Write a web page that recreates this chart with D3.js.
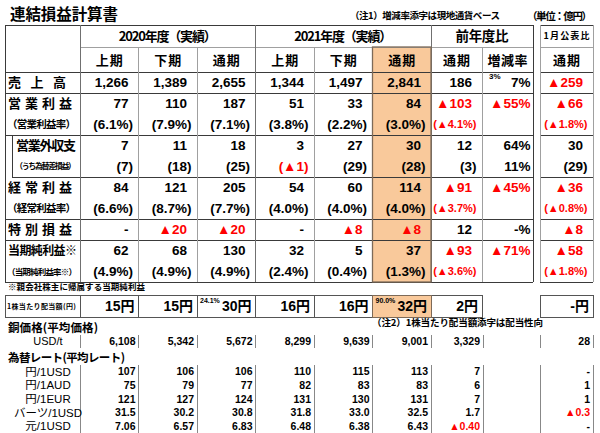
<!DOCTYPE html>
<html><head><meta charset="utf-8">
<script src="https://cdn.jsdelivr.net/npm/d3@7"></script>
<style>body{margin:0;background:#fff}svg{display:block}</style>
</head><body><svg id="c" width="600" height="433"></svg>
<script>
// ---------- data ----------
const periods = ["h1_20","h2_20","fy20","h1_21","h2_21","fy21"];
const periodLabels = ["上期","下期","通期","上期","下期","通期"];
const yearLabels = ["2020年度（実績）","2021年度（実績）"];
const compareLabels = ["通期","増減率"];
const rowLabels = ["売 上 高","営 業 利 益","営業外収支","経 常 利 益","特 別 損 益","当期純利益※"];
const subLabels = [null,"（営業利益率）","（うち為替差損益）","（経常利益率）",null,"（当期純利益率※）"];

const sales     = [1266,1389,2655,1344,1497,2841];
const opIncome  = [77,110,187,51,33,84];
const opMargin  = [6.1,7.9,7.1,3.8,2.2,3.0];
const nonOp     = [7,11,18,3,27,30];
const fxGain    = [7,18,25,-1,29,28];
const ordinary  = [84,121,205,54,60,114];
const ordMargin = [6.6,8.7,7.7,4.0,4.0,4.0];
const special   = [null,-20,-20,null,-8,-8];
const netIncome = [62,68,130,32,5,37];
const netMargin = [4.9,4.9,4.9,2.4,0.4,1.3];

const yoyMain   = [186,-103,12,-91,12,-93];
const yoySub    = [null,-4.1,3,-3.7,null,-3.6];
const rateMain  = [7,-55,64,-45,null,-71];
const rateSub   = [null,null,11,null,null,null];
const rateLocal = [3,null,null,null,null,null];
const janMain   = [-259,-66,30,-36,-8,-58];
const janSub    = [null,-1.8,29,-0.8,null,-1.8];

const dividend    = [15,15,30,16,16,32];
const payoutRatio = [null,null,24.1,null,null,90.0];
const dividendYoy = 2;
const dividendJan = null;

const copper    = [6108,5342,5672,8299,9639,9001];
const copperYoy = 3329;
const copperJan = 28;

const fxLabels   = ["円/1USD","円/1AUD","円/1EUR","バーツ/1USD","元/1USD"];
const fxUSD = [107,106,106,110,115,113];
const fxAUD = [75,79,77,82,83,83];
const fxEUR = [121,127,124,131,130,131];
const fxTHB = [31.5,30.2,30.8,31.8,33.0,32.5];
const fxCNY = [7.06,6.57,6.83,6.48,6.38,6.43];
const fxYoy = [7,6,7,1.7,-0.40];
const fxJan = [null,1,1,-0.3,null];
const fxDecimals = [0,0,0,1,2];

// ---------- setup ----------
const svg = d3.select("#c");
const NUM = "'Liberation Sans', Arial, 'Noto Sans CJK JP', sans-serif";
const JP = "'Noto Sans CJK JP', 'Liberation Sans', sans-serif";
const RED = "#ff0000", PEACH = "#f9c99b", DARK = "#3a3a3a", GREY = "#a0a0a0", HL = "#7d6a58";

const x  = d3.scaleBand().domain(periods).range([80, 431]);
const xc = d3.scaleBand().domain(["yoy","rate"]).range([431, 533]);
const xj = d3.scaleBand().domain(["jan"]).range([540, 593]);
const y  = d3.scaleLinear().domain([0, 10]).range([72, 282]);

const rows = [
  {vals: sales,     sub: null,      subType: null},
  {vals: opIncome,  sub: opMargin,  subType: "pct"},
  {vals: nonOp,     sub: fxGain,    subType: "int"},
  {vals: ordinary,  sub: ordMargin, subType: "pct"},
  {vals: special,   sub: null,      subType: null},
  {vals: netIncome, sub: netMargin, subType: "pct"}
];
let acc = 0;
rows.forEach((r, i) => { r.start = acc; r.span = r.sub ? 2 : 1; acc += r.span; r.i = i; });

const gFill = svg.append("g"), gLine = svg.append("g"), gText = svg.append("g");

function txt(xp, yp, s, o = {}) {
  const t = gText.append("text").attr("x", xp).attr("y", yp).text(s)
    .attr("font-family", o.family || NUM).attr("font-size", o.size || 13)
    .attr("font-weight", o.weight || "bold").attr("fill", o.fill || "#000")
    .attr("text-anchor", o.anchor || "end").attr("dy", "0.36em");
  if (o.tl) t.attr("textLength", o.tl).attr("lengthAdjust", o.adj || "spacing");
  return t;
}
function line(x1, y1, x2, y2, c, w) {
  gLine.append("line").attr("x1", x1).attr("y1", y1).attr("x2", x2).attr("y2", y2)
    .attr("stroke", c || DARK).attr("stroke-width", w || 1).attr("shape-rendering", "crispEdges");
}
const fInt = d3.format(",");
function fmtNum(v, type, dec) {
  if (v === null) return "-";
  const a = Math.abs(v);
  const s = type === "pct" ? d3.format(".1f")(a) + "%" : (dec ? d3.format("." + dec + "f")(a) : fInt(a));
  return (v < 0 ? "▲" : "") + s;
}

// ---------- title & notes ----------
txt(10, 14, "連結損益計算書", {family: JP, size: 15.5, anchor: "start", tl: 108});
txt(350, 16, "（注1）増減率添字は現地通貨ベース", {family: JP, size: 9.5, anchor: "start", tl: 150});
txt(527, 16, "（単位：億円）", {family: JP, size: 10.5, anchor: "start", tl: 65});

// ---------- highlight ----------
gFill.append("rect").attr("x", x("fy21")).attr("y", 47).attr("width", x.bandwidth()).attr("height", 282 - 47).attr("fill", PEACH);

// ---------- grid ----------
line(5, 25, 533, 25);
line(80, 47, 533, 47, GREY);
line(5, 72, 533, 72);
rows.forEach((r, i) => { if (i > 0) line(i === 3 ? 12 : 5, y(r.start), 533, y(r.start)); });
line(5, 282, 533, 282);
line(5, 25, 5, 282);
line(533, 25, 533, 282);
line(12, y(rows[2].start), 12, y(rows[3].start), DARK);
[80, x("h1_21"), 431].forEach(v => line(v, 25, v, 282, "#707070"));
periods.forEach(p => { if (p !== "h1_20" && p !== "h1_21") line(x(p), 47, x(p), 282, GREY); });
line(xc("rate"), 47, xc("rate"), 282, GREY);
const jx0 = xj("jan"), jx1 = xj("jan") + xj.bandwidth();
line(jx0, 25, jx1, 25);
line(jx0, 47, jx1, 47, GREY);
line(jx0, 72, jx1, 72);
rows.forEach((r, i) => { if (i > 0) line(jx0, y(r.start), jx1, y(r.start)); });
line(jx0, 282, jx1, 282);
line(jx0, 25, jx0, 282, GREY);
line(jx1, 25, jx1, 282, GREY);
gLine.append("rect").attr("x", x("fy21")).attr("y", 47).attr("width", x.bandwidth()).attr("height", 282 - 47)
  .attr("fill", "none").attr("stroke", HL).attr("stroke-width", 1.3);

// ---------- headers ----------
txt(x("h1_20") + x.bandwidth() * 1.5, 36, yearLabels[0], {family: JP, anchor: "middle", size: 13, tl: 98});
txt(x("h1_21") + x.bandwidth() * 1.5, 36, yearLabels[1], {family: JP, anchor: "middle", size: 13, tl: 98});
txt(482, 36, "前年度比", {family: JP, anchor: "middle", size: 13.5, tl: 53});
txt(566.5, 36, "1月公表比", {family: JP, anchor: "middle", size: 9, tl: 46});
periods.forEach((p, i) => txt(x(p) + x.bandwidth() / 2, 60, periodLabels[i], {family: JP, anchor: "middle", size: 13, tl: 27}));
txt(xc("yoy") + xc.bandwidth() / 2, 60, compareLabels[0], {family: JP, anchor: "middle", size: 13, tl: 27});
txt(xc("rate") + xc.bandwidth() / 2, 60, compareLabels[1], {family: JP, anchor: "middle", size: 13, tl: 40});
txt((jx0 + jx1) / 2, 60, "通期", {family: JP, anchor: "middle", size: 13, tl: 27});

// ---------- row labels ----------
const labelW = [58, 64, 60, 64, 64, 69];
const subW = [0, 69, 61, 69, 0, 70];
const subSize = [0, 10.5, 8, 10.5, 0, 8.5];
rows.forEach((r, i) => {
  const x0 = i === 2 ? 16 : 8;
  txt(x0, y(r.start + 0.5), rowLabels[i], {family: JP, anchor: "start", size: i === 5 ? 12 : 13, tl: labelW[i]});
  if (subLabels[i]) txt(x0 - 1, y(r.start + 1.5), subLabels[i], {family: JP, anchor: "start", size: subSize[i], tl: subW[i]});
});

// ---------- values ----------
rows.forEach((r, i) => {
  const ym = y(r.start + 0.5), ys = y(r.start + 1.5);
  periods.forEach((p, j) => {
    const right = x(p) + x.bandwidth();
    const v = r.vals[j];
    txt(right - 10, ym, fmtNum(v, "int"), {fill: v !== null && v < 0 ? RED : "#000", size: 13.5});
    if (r.sub) {
      const s = r.sub[j];
      txt(right - 5.5, ys, "(" + fmtNum(s, r.subType) + ")", {fill: s < 0 ? RED : "#000", size: 13.5});
    }
  });
  const yr = xc("yoy") + xc.bandwidth();
  txt(yr - 10, ym, fmtNum(yoyMain[i], "int"), {fill: yoyMain[i] < 0 ? RED : "#000", size: 13.5});
  if (yoySub[i] !== null) {
    const neg = yoySub[i] < 0;
    txt(yr - 5.5, ys, "(" + fmtNum(yoySub[i], r.subType) + ")", {fill: neg ? RED : "#000", size: neg ? 11 : 13.5});
  }
  const rr = xc("rate") + xc.bandwidth();
  txt(rr - 2.5, ym, rateMain[i] === null ? "-%" : fmtNum(rateMain[i], "int") + "%", {fill: rateMain[i] < 0 ? RED : "#000", size: 13.5});
  if (rateSub[i] !== null) txt(rr - 2.5, ys, fmtNum(rateSub[i], "int") + "%", {size: 13.5});
  if (rateLocal[i] !== null) txt(xc("rate") + 7, ym - 6, rateLocal[i] + "%", {anchor: "start", size: 8});
  const jr = jx1;
  txt(jr - 10, ym, fmtNum(janMain[i], "int"), {fill: janMain[i] < 0 ? RED : "#000", size: 13.5});
  if (janSub[i] !== null) {
    const neg = janSub[i] < 0;
    txt(jr - 5.5, ys, "(" + fmtNum(janSub[i], r.subType) + ")", {fill: neg ? RED : "#000", size: neg ? 11 : 13.5});
  }
});

// ---------- footnote ----------
txt(8, 287, "※親会社株主に帰属する当期純利益", {family: JP, anchor: "start", size: 8.5, tl: 137});

// ---------- dividend row ----------
const dy0 = 295, dy1 = 317, dyc = 306;
function cell(x0, x1, fill, stroke) {
  gFill.append("rect").attr("x", x0).attr("y", dy0).attr("width", x1 - x0).attr("height", dy1 - dy0)
    .attr("fill", fill || "#fff").attr("stroke", stroke || "#555").attr("stroke-width", 1).attr("shape-rendering", "crispEdges");
}
cell(5, 80);
periods.forEach(p => { if (p !== "fy21") cell(x(p), x(p) + x.bandwidth()); });
cell(xc("yoy"), xc("yoy") + xc.bandwidth());
cell(jx0, jx1);
cell(x("fy21"), x("fy21") + x.bandwidth(), PEACH, HL);
txt(7, dyc, "1株当たり配当額(円)", {family: JP, anchor: "start", size: 7, tl: 69});
periods.forEach((p, j) => {
  txt(x(p) + x.bandwidth() - 4, dyc, dividend[j] + "円", {size: 14});
  if (payoutRatio[j] !== null) txt(x(p) + 3, dy0 + 5, d3.format(".1f")(payoutRatio[j]) + "%", {anchor: "start", size: 7});
});
txt(xc("yoy") + xc.bandwidth() - 4, dyc, dividendYoy + "円", {size: 14});
txt(jx1 - 4, dyc, (dividendJan === null ? "-" : dividendJan) + "円", {size: 14});
txt(372, 323, "（注2）1株当たり配当額添字は配当性向", {family: JP, anchor: "start", size: 9.5, tl: 171});

// ---------- copper & fx ----------
const fxKeys = ["usd","aud","eur","thb","cny"];
const yl = d3.scalePoint().domain(fxKeys).range([371.5, 426]);
const yCopperTitle = 328, yCopper = 341.5, yFxTitle = 357.5;
txt(8, yCopperTitle, "銅価格(平均価格)", {family: JP, anchor: "start", size: 11.5, tl: 90});
txt(8, yFxTitle, "為替レート(平均レート)", {family: JP, anchor: "start", size: 11.5, tl: 117});

const tickXs = [80, ...periods.map(p => x(p) + x.bandwidth()), xc("yoy") + xc.bandwidth() + 1, jx0, jx1];
tickXs.forEach(tx => {
  line(tx, yCopper - 6.5, tx, yCopper + 6.5, "#888");
  line(tx, yl("usd") - 7, tx, yl("cny") + 7, "#888");
});

txt(48, yCopper, "USD/t", {anchor: "middle", size: 11, weight: "normal"});
periods.forEach((p, j) => txt(x(p) + x.bandwidth() - 3, yCopper, fInt(copper[j]), {size: 10.5}));
txt(xc("yoy") + xc.bandwidth() - 2, yCopper, fInt(copperYoy), {size: 10.5});
txt(jx1 - 3, yCopper, fInt(copperJan), {size: 10.5});

const fxSeries = [fxUSD, fxAUD, fxEUR, fxTHB, fxCNY];
fxKeys.forEach((k, i) => {
  const yy = yl(k);
  txt(48, yy, fxLabels[i], {anchor: "middle", size: 11.5, weight: "normal", family: NUM});
  periods.forEach((p, j) => txt(x(p) + x.bandwidth() - 3, yy, fmtNum(fxSeries[i][j], "num", fxDecimals[i]), {size: 10.5}));
  txt(xc("yoy") + xc.bandwidth() - 2, yy, fmtNum(fxYoy[i], "num", fxDecimals[i]), {size: 10.5, fill: fxYoy[i] < 0 ? RED : "#000"});
  const jv = fxJan[i];
  txt(jx1 - 3, yy, jv === null ? "-" : fmtNum(jv, "num", jv % 1 !== 0 ? 1 : 0), {size: 10.5, fill: jv !== null && jv < 0 ? RED : "#000"});
});
</script>
</body></html>
